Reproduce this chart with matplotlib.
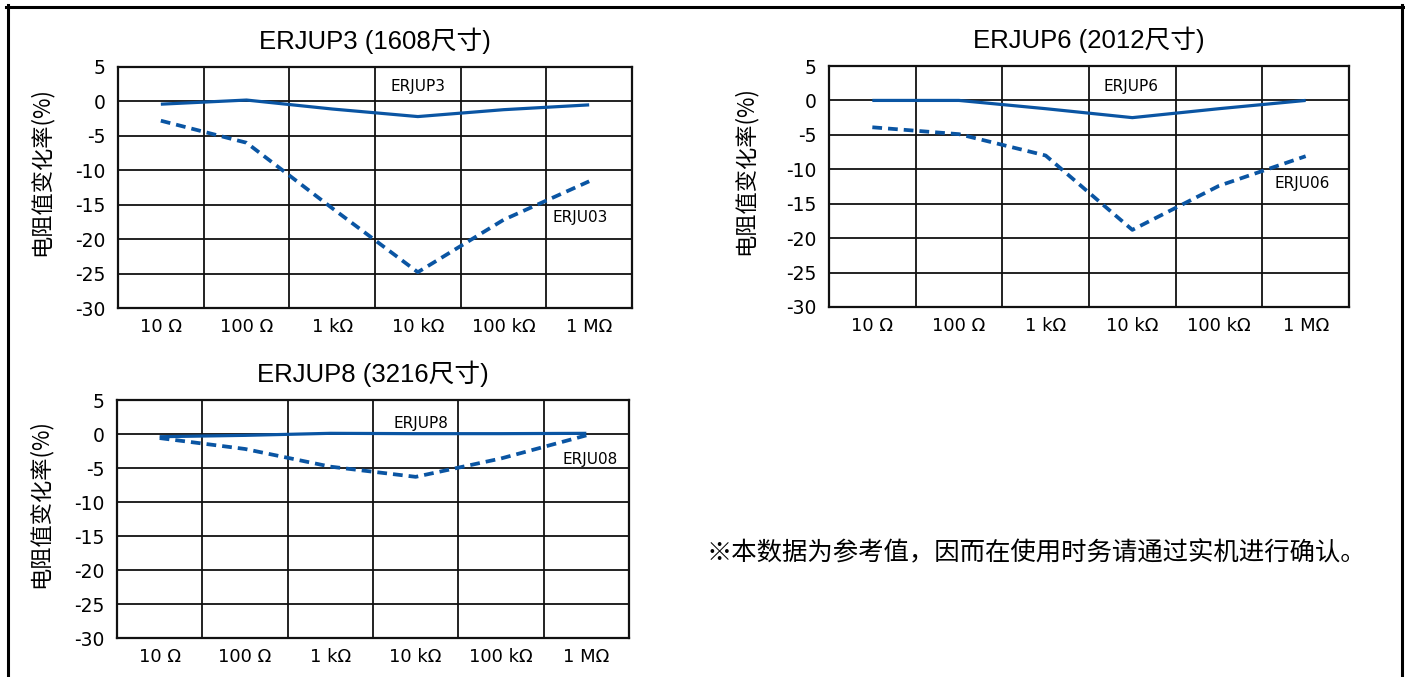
import numpy as np
import matplotlib
matplotlib.use('Agg')
import matplotlib.pyplot as plt
from matplotlib.lines import Line2D

plt.rcParams['font.family'] = ['DejaVu Sans', 'Noto Sans CJK SC']
plt.rcParams['axes.unicode_minus'] = False

categories = ['10 Ω', '100 Ω', '1 kΩ', '10 kΩ', '100 kΩ', '1 MΩ']
y_ticks = [5, 0, -5, -10, -15, -20, -25, -30]

# ERJUP3 / ERJU03 (1608)
up3 = [-0.4, 0.2, -1.1, -2.2, -1.2, -0.5]
u03 = [-2.8, -6.0, -15.5, -24.8, -17.2, -11.6]
# ERJUP6 / ERJU06 (2012)
up6 = [0.0, 0.0, -1.2, -2.5, -1.2, 0.0]
u06 = [-3.9, -4.9, -8.0, -18.8, -12.4, -8.1]
# ERJUP8 / ERJU08 (3216)
up8 = [-0.4, -0.2, 0.1, 0.05, 0.05, 0.1]
u08 = [-0.6, -2.2, -4.8, -6.3, -3.6, -0.2]

titles = ['ERJUP3 (1608尺寸)', 'ERJUP6 (2012尺寸)', 'ERJUP8 (3216尺寸)']
note = '※本数据为参考值，因而在使用时务请通过实机进行确认。'
ylabel = '电阻值变化率(%)'

BLUE = '#0a55a3'
W, H = 1405, 677
fig = plt.figure(figsize=(W / 100, H / 100), dpi=100)


def px_axes(x0, y0, x1, y1):
    return fig.add_axes([x0 / W, 1 - y1 / H, (x1 - x0) / W, (y1 - y0) / H])


def panel(ax, solid, dashed, title, lab_p, lab_u, name_p, name_u, lab_x):
    x = np.arange(len(categories))
    ax.plot(x, solid, color=BLUE, lw=2.3, solid_capstyle='butt')
    ax.plot(x, dashed, color=BLUE, lw=2.7, dashes=(2.6, 1.6))
    ax.set_xlim(-0.5, len(categories) - 0.5)
    ax.set_ylim(-30, 5)
    ax.set_yticks(y_ticks)
    ax.set_xticks(x)
    ax.set_xticklabels(categories)
    ax.set_xticks(np.arange(len(categories) + 1) - 0.5, minor=True)
    ax.grid(which='minor', axis='x', color='#111111', lw=1.3)
    ax.grid(which='major', axis='y', color='#111111', lw=1.3)
    ax.tick_params(which='both', length=0)
    ax.tick_params(axis='x', pad=7, labelsize=13, labelfontfamily='DejaVu Sans')
    ax.tick_params(axis='y', pad=9, labelsize=13.5, labelfontfamily='DejaVu Sans')
    for s in ax.spines.values():
        s.set_linewidth(1.6)
        s.set_color('#111111')
    ax.set_title(title, fontsize=18.5, pad=13,
                 family=['Liberation Sans', 'Noto Sans CJK SC'])
    ax.set_ylabel(ylabel, fontsize=16, family=['Noto Sans CJK SC'])
    ax.yaxis.set_label_coords(lab_x, 0.565)
    ax.text(lab_p[0], lab_p[1], name_p, ha='center', va='center',
            fontsize=11, family='DejaVu Sans')
    ax.text(lab_u[0], lab_u[1], name_u, ha='center', va='center',
            fontsize=11, family='DejaVu Sans')


ax1 = px_axes(118, 67, 632, 308)
panel(ax1, up3, u03, titles[0], (3.0, 2.1), (4.89, -16.9), 'ERJUP3', 'ERJU03', -0.128)

ax2 = px_axes(829, 66, 1349, 307)
panel(ax2, up6, u06, titles[1], (2.99, 2.0), (4.96, -12.0), 'ERJUP6', 'ERJU06', -0.139)

ax3 = px_axes(117, 400, 629, 638)
panel(ax3, up8, u08, titles[2], (3.06, 1.55), (5.05, -3.7), 'ERJUP8', 'ERJU08', -0.128)

fig.text(707 / W, 1 - 553 / H, note, fontsize=18.3, va='center', ha='left',
         family=['Noto Sans CJK SC', 'DejaVu Sans'])

# outer frame (open at the bottom)
lw = 2.2
fig.add_artist(Line2D([6 / W, 1403 / W], [1 - 6.5 / H, 1 - 6.5 / H], color='black', lw=lw))
fig.add_artist(Line2D([7.5 / W, 7.5 / W], [0, 1 - 5 / H], color='black', lw=lw))
fig.add_artist(Line2D([1401.5 / W, 1401.5 / W], [0, 1 - 5 / H], color='black', lw=lw))

fig.savefig('out.png', dpi=100)
